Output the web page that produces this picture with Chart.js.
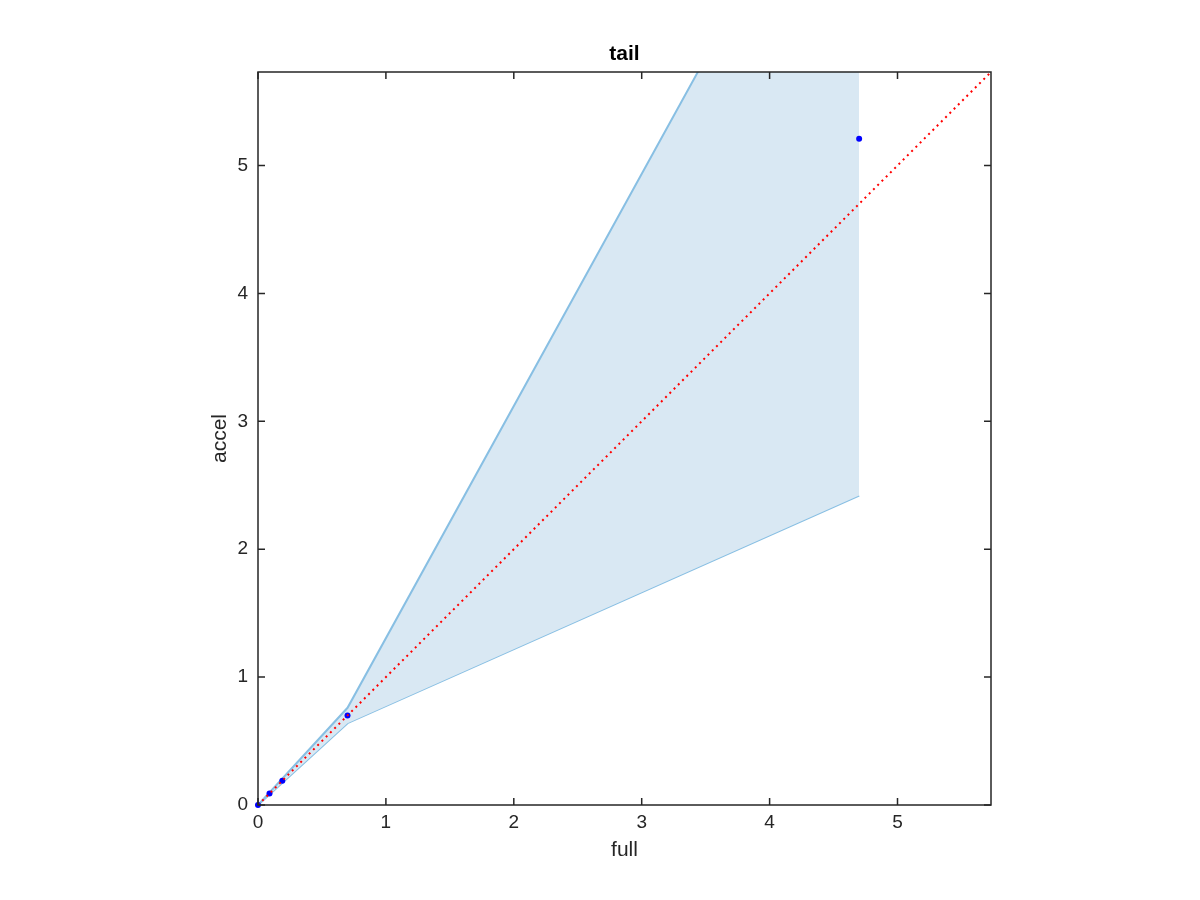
<!DOCTYPE html>
<html>
<head>
<meta charset="utf-8">
<script src="https://cdn.jsdelivr.net/npm/chart.js@4/dist/chart.umd.min.js"></script>
<style>
  html, body { margin: 0; padding: 0; background: #ffffff; }
  #wrap { width: 1200px; height: 900px; }
</style>
</head>
<body>
<div id="wrap"><canvas id="c" width="1200" height="900"></canvas></div>
<script>
// ---- data ----
const titleText = 'tail';
const xLabel = 'full';
const yLabel = 'accel';
const axisMax = 5.731;
const tickValues = [0, 1, 2, 3, 4, 5];

const pointX = [0, 0.09, 0.19, 0.70, 4.70];
const pointY = [0, 0.09, 0.19, 0.70, 5.21];

const bandX = [0, 0.70, 4.70];
const bandUpper = [0, 0.76, 8.02];
const bandLower = [0, 0.64, 2.42];

const refX = [0, 5.731];
const refY = [0, 5.731];

const toXY = (xs, ys) => xs.map((x, i) => ({ x: x, y: ys[i] }));

const FONT = "'Liberation Sans', Arial, Helvetica, sans-serif";
const AXIS_COLOR = '#262626';

// frame + inward ticks on all four sides
const framePlugin = {
  id: 'frame',
  afterDatasetsDraw(chart) {
    const { ctx, chartArea: a, scales } = chart;
    const xs = scales.x, ys = scales.y;
    const tl = 7;
    ctx.save();
    ctx.strokeStyle = AXIS_COLOR;
    ctx.lineWidth = 1.5;
    ctx.strokeRect(a.left, a.top, a.right - a.left, a.bottom - a.top);
    ctx.beginPath();
    tickValues.forEach(v => {
      const px = xs.getPixelForValue(v);
      ctx.moveTo(px, a.bottom); ctx.lineTo(px, a.bottom - tl);
      ctx.moveTo(px, a.top); ctx.lineTo(px, a.top + tl);
      const py = ys.getPixelForValue(v);
      ctx.moveTo(a.left, py); ctx.lineTo(a.left + tl, py);
      ctx.moveTo(a.right, py); ctx.lineTo(a.right - tl, py);
    });
    ctx.stroke();
    ctx.restore();
  }
};

const setTicks = scale => { scale.ticks = tickValues.map(v => ({ value: v })); };

new Chart(document.getElementById('c'), {
  type: 'scatter',
  data: {
    datasets: [
      {
        label: 'reference',
        type: 'line',
        data: toXY(refX, refY),
        borderColor: '#ff0000',
        borderWidth: 2,
        borderDash: [2, 4],
        pointRadius: 0,
        fill: false
      },
      {
        label: 'points',
        data: toXY(pointX, pointY),
        backgroundColor: '#0000ff',
        borderColor: '#0000ff',
        pointRadius: 3,
        borderWidth: 0,
        clip: false
      },
      {
        label: 'upper',
        type: 'line',
        data: toXY(bandX, bandUpper),
        borderColor: '#88bfe3',
        borderWidth: 2,
        backgroundColor: 'rgba(217,232,243,1)',
        pointRadius: 0,
        tension: 0,
        fill: '+1'
      },
      {
        label: 'lower',
        type: 'line',
        data: toXY(bandX, bandLower),
        borderColor: '#88bfe3',
        borderWidth: 2,
        pointRadius: 0,
        tension: 0,
        fill: false
      }
    ]
  },
  options: {
    responsive: false,
    animation: false,
    devicePixelRatio: 1,
    layout: { padding: { left: 0, right: 209, top: 0, bottom: 0 } },
    plugins: {
      legend: { display: false },
      tooltip: { enabled: false },
      title: { display: false }
    },
    scales: {
      x: {
        type: 'linear',
        position: 'bottom',
        min: 0,
        max: axisMax,
        afterBuildTicks: setTicks,
        afterFit: s => { s.height = 95; },
        grid: { display: false, drawTicks: false },
        border: { display: false },
        ticks: {
          color: AXIS_COLOR,
          padding: 6,
          maxRotation: 0,
          font: { family: FONT, size: 19 },
          callback: v => String(v)
        },
        title: {
          display: true,
          text: xLabel,
          color: AXIS_COLOR,
          font: { family: FONT, size: 21, lineHeight: 1.2 },
          padding: { top: 4, bottom: 37.4 }
        }
      },
      xTop: {
        type: 'linear',
        position: 'top',
        min: 0,
        max: axisMax,
        afterFit: s => { s.height = 72; },
        grid: { display: false, drawTicks: false },
        border: { display: false },
        ticks: { display: false },
        title: {
          display: true,
          text: titleText,
          color: '#000000',
          font: { family: FONT, size: 21, weight: 'bold', lineHeight: 1.2 },
          padding: { top: 41.4, bottom: 4 }
        }
      },
      y: {
        type: 'linear',
        min: 0,
        max: axisMax,
        afterBuildTicks: setTicks,
        afterFit: s => { s.width = 258; },
        grid: { display: false, drawTicks: false },
        border: { display: false },
        ticks: {
          color: AXIS_COLOR,
          padding: 10,
          font: { family: FONT, size: 19 },
          callback: v => String(v)
        },
        title: {
          display: true,
          text: yLabel,
          color: AXIS_COLOR,
          font: { family: FONT, size: 21, lineHeight: 1.2 },
          padding: { top: 207.4, bottom: 4 }
        }
      }
    }
  },
  plugins: [framePlugin]
});
</script>
</body>
</html>
